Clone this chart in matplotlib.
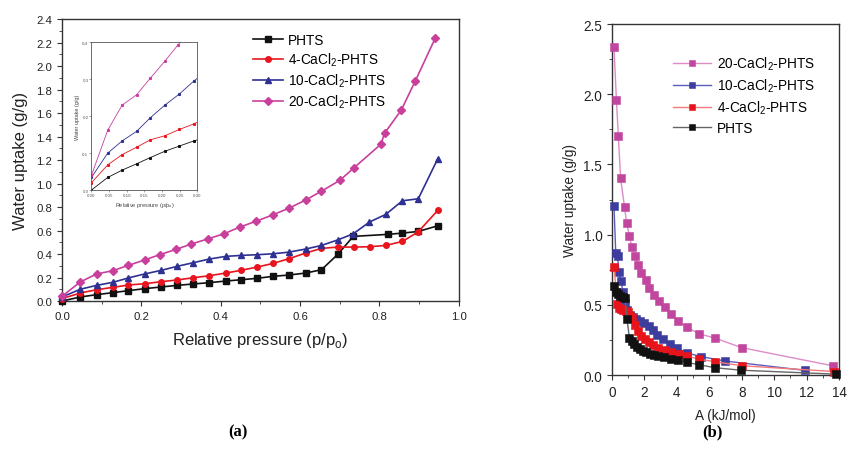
import matplotlib
matplotlib.use('Agg')
import matplotlib.pyplot as plt
from matplotlib.ticker import MultipleLocator, FormatStrFormatter

plt.rcParams['font.family'] = ['Liberation Sans', 'DejaVu Sans']
plt.rcParams['mathtext.fontset'] = 'custom'
plt.rcParams['mathtext.rm'] = 'Liberation Sans'

# ── Data: (a) isotherms ────────────────────────────────────────────────────
labels = ['PHTS', r'4-CaCl$_\mathregular{2}$-PHTS',
          r'10-CaCl$_\mathregular{2}$-PHTS', r'20-CaCl$_\mathregular{2}$-PHTS']

p_phts = [0.0, 0.046, 0.087, 0.128, 0.167, 0.208, 0.249, 0.29, 0.331, 0.371, 0.413,
          0.451, 0.492, 0.532, 0.572, 0.614, 0.654, 0.696, 0.734, 0.821, 0.858, 0.898, 0.947]
w_phts = [0.0, 0.034, 0.054, 0.071, 0.088, 0.105, 0.119, 0.133, 0.145, 0.156, 0.17,
          0.181, 0.193, 0.21, 0.221, 0.238, 0.266, 0.40, 0.55, 0.567, 0.578, 0.592, 0.64]

p_4 = [0.0, 0.046, 0.087, 0.128, 0.167, 0.208, 0.249, 0.29, 0.331, 0.371, 0.413, 0.451,
       0.492, 0.532, 0.572, 0.614, 0.654, 0.696, 0.736, 0.776, 0.816, 0.858, 0.898, 0.947]
w_4 = [0.02, 0.068, 0.096, 0.116, 0.136, 0.147, 0.164, 0.179, 0.198, 0.215, 0.238, 0.261,
       0.289, 0.32, 0.36, 0.408, 0.448, 0.459, 0.459, 0.462, 0.473, 0.507, 0.589, 0.771]

p_10 = [0.0, 0.046, 0.087, 0.128, 0.167, 0.208, 0.249, 0.29, 0.331, 0.371, 0.413, 0.451,
        0.492, 0.532, 0.572, 0.614, 0.654, 0.696, 0.734, 0.775, 0.816, 0.858, 0.898, 0.947]
w_10 = [0.034, 0.10, 0.133, 0.159, 0.196, 0.23, 0.26, 0.295, 0.326, 0.357, 0.38, 0.388,
        0.394, 0.402, 0.416, 0.442, 0.473, 0.521, 0.572, 0.672, 0.737, 0.853, 0.87, 1.21]

p_20 = [0.0, 0.046, 0.087, 0.128, 0.167, 0.208, 0.246, 0.287, 0.326, 0.369, 0.408, 0.448,
        0.49, 0.532, 0.572, 0.614, 0.654, 0.70, 0.736, 0.804, 0.813, 0.855, 0.891, 0.941]
w_20 = [0.04, 0.162, 0.23, 0.258, 0.303, 0.349, 0.394, 0.439, 0.485, 0.53, 0.572, 0.629,
        0.68, 0.734, 0.79, 0.859, 0.935, 1.026, 1.134, 1.335, 1.428, 1.624, 1.876, 2.239]

# ── Data: (b) characteristic curves ────────────────────────────────────────
a_20 = [0.12, 0.27, 0.39, 0.53, 0.77, 0.9, 1.07, 1.23, 1.43, 1.61, 1.81, 2.07, 2.31,
        2.59, 2.88, 3.24, 3.65, 4.08, 4.6, 5.38, 6.35, 7.99, 13.6]
u_20 = [2.334, 1.96, 1.70, 1.40, 1.197, 1.085, 0.99, 0.909, 0.845, 0.783, 0.726, 0.675,
        0.617, 0.571, 0.528, 0.482, 0.435, 0.385, 0.341, 0.293, 0.263, 0.195, 0.066]

a_10 = [0.12, 0.23, 0.34, 0.43, 0.55, 0.68, 0.8, 0.92, 1.11, 1.29, 1.5, 1.7, 1.99, 2.28,
        2.5, 2.77, 3.12, 3.55, 3.98, 4.63, 5.5, 6.96, 11.9]
u_10 = [1.206, 0.866, 0.846, 0.731, 0.667, 0.589, 0.513, 0.465, 0.427, 0.41, 0.399, 0.387,
        0.37, 0.347, 0.32, 0.287, 0.256, 0.223, 0.192, 0.157, 0.131, 0.10, 0.033]

a_4 = [0.12, 0.33, 0.45, 0.57, 0.7, 0.84, 0.98, 1.13, 1.25, 1.42, 1.6, 1.8, 2.02, 2.28,
       2.55, 2.86, 3.24, 3.65, 4.1, 4.65, 5.38, 6.37, 8.01, 13.68]
u_4 = [0.769, 0.505, 0.48, 0.468, 0.46, 0.455, 0.446, 0.42, 0.405, 0.358, 0.315, 0.28,
       0.254, 0.232, 0.212, 0.192, 0.178, 0.161, 0.148, 0.134, 0.113, 0.094, 0.066, 0.025]

a_phts = [0.12, 0.23, 0.35, 0.49, 0.66, 0.8, 0.92, 1.07, 1.21, 1.38, 1.54, 1.72, 1.91,
          2.09, 2.32, 2.57, 2.83, 3.2, 3.63, 4.09, 4.6, 5.38, 6.35, 7.97, 13.84]
u_phts = [0.636, 0.588, 0.576, 0.566, 0.556, 0.546, 0.40, 0.266, 0.24, 0.218, 0.202, 0.186,
          0.174, 0.164, 0.153, 0.143, 0.135, 0.127, 0.115, 0.104, 0.09, 0.073, 0.052, 0.034, 0.006]

# ── Styles ─────────────────────────────────────────────────────────────────
cols_a = ['#111111', '#e8141e', '#2e3192', '#c8409c']
marks_a = ['s', 'o', '^', 'D']
iso = [(p_phts, w_phts), (p_4, w_4), (p_10, w_10), (p_20, w_20)]


def style_axes(ax, tick_size):
    for s in ax.spines.values():
        s.set_color('#333333')
        s.set_linewidth(1.0)
    ax.tick_params(which='both', direction='out', colors='#333333',
                   labelsize=tick_size, labelcolor='#222222')
    ax.tick_params(which='major', length=3.5)
    ax.tick_params(which='minor', length=2)


fig = plt.figure(figsize=(8.47, 4.56), dpi=100)
fig.patch.set_facecolor('white')

# ── (a) main axes ──────────────────────────────────────────────────────────
ax1 = fig.add_axes([0.0732, 0.3377, 0.4684, 0.6184])
for (x, y), c, m, lab in zip(iso, cols_a, marks_a, labels):
    ax1.plot(x, y, color=c, marker=m, ms=4 if m != 'D' else 3.6, lw=1.2, label=lab,
             clip_on=False, zorder=3)
ax1.set_xlim(0, 1.0)
ax1.set_ylim(0, 2.4)
ax1.xaxis.set_major_locator(MultipleLocator(0.2))
ax1.xaxis.set_minor_locator(MultipleLocator(0.1))
ax1.yaxis.set_major_locator(MultipleLocator(0.2))
ax1.yaxis.set_minor_locator(MultipleLocator(0.1))
ax1.xaxis.set_major_formatter(FormatStrFormatter('%.1f'))
ax1.yaxis.set_major_formatter(FormatStrFormatter('%.1f'))
style_axes(ax1, 8.2)
ax1.set_xlabel(r'Relative pressure (p/p$_\mathregular{o}$)', fontsize=12, color='#222222',
               labelpad=7)
ax1.set_ylabel('Water uptake (g/g)', fontsize=12, color='#222222', labelpad=6)
ax1.legend(loc='upper left', bbox_to_anchor=(0.4815, 0.952), frameon=False,
           fontsize=9.8, handlelength=2.2, handletextpad=0.35, borderpad=0,
           borderaxespad=0, labelspacing=0.28)

# ── (a) inset ──────────────────────────────────────────────────────────────
ins = fig.add_axes([0.108, 0.5811, 0.125, 0.3239])
for (x, y), c in zip(iso, cols_a):
    ins.plot(x, y, color=c, marker='s', ms=1.2, lw=0.6)
ins.set_xlim(0, 0.30)
ins.set_ylim(0, 0.4)
ins.xaxis.set_major_locator(MultipleLocator(0.05))
ins.yaxis.set_major_locator(MultipleLocator(0.1))
ins.xaxis.set_major_formatter(FormatStrFormatter('%.2f'))
ins.yaxis.set_major_formatter(FormatStrFormatter('%.1f'))
for s in ins.spines.values():
    s.set_color('#555555')
    s.set_linewidth(0.6)
ins.tick_params(direction='out', length=1.2, width=0.4, labelsize=3.2, pad=1,
                colors='#555555')
ins.set_xlabel(r'Relative pressure (p/p$_\mathregular{o}$)', fontsize=4, labelpad=2,
               color='#444444')
ins.set_ylabel('Water uptake (g/g)', fontsize=4, labelpad=2, color='#444444')

# ── (b) characteristic curves ──────────────────────────────────────────────
ax2 = fig.add_axes([0.7226, 0.1754, 0.268, 0.7697])
curves = [(a_20, u_20, '#c0479d', '#dd8cc8', labels[3]),
          (a_10, u_10, '#3d3d9e', '#5c5cc0', labels[2]),
          (a_4, u_4, '#e8141b', '#f27a7a', labels[1]),
          (a_phts, u_phts, '#111111', '#666666', labels[0])]
for x, y, mc, lc, lab in curves:
    ax2.plot(x, y, color=lc, lw=1.0, marker='s', ms=5.5, mfc=mc, mec=mc,
             mew=0.4, label=lab, clip_on=False, zorder=3)
ax2.set_xlim(0, 14)
ax2.set_ylim(0, 2.5)
ax2.xaxis.set_major_locator(MultipleLocator(2))
ax2.xaxis.set_minor_locator(MultipleLocator(1))
ax2.yaxis.set_major_locator(MultipleLocator(0.5))
ax2.yaxis.set_minor_locator(MultipleLocator(0.25))
ax2.yaxis.set_major_formatter(FormatStrFormatter('%.1f'))
style_axes(ax2, 9.8)
ax2.set_xlabel('A (kJ/mol)', fontsize=9.8, color='#222222', labelpad=7)
ax2.set_ylabel('Water uptake (g/g)', fontsize=9.8, color='#222222', labelpad=5)
ax2.legend(loc='upper left', bbox_to_anchor=(0.269, 0.912), frameon=False,
           fontsize=9.8, handlelength=2.8, handletextpad=0.4, borderpad=0,
           borderaxespad=0, labelspacing=0.33, markerscale=0.7)

# ── panel letters ──────────────────────────────────────────────────────────
fig.text(0.281, 0.052, '(a)', ha='center', va='center', fontsize=12,
         fontweight='bold', family='Liberation Serif')
fig.text(0.841, 0.052, '(b)', ha='center', va='center', fontsize=12,
         fontweight='bold', family='Liberation Serif')

fig.savefig('out.png', dpi=100, facecolor='white')
